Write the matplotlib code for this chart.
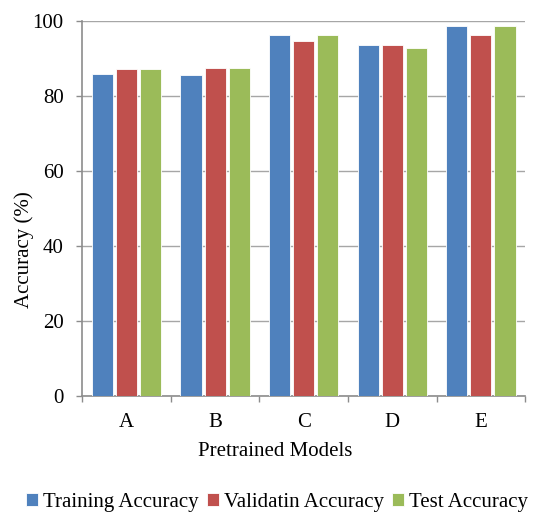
import matplotlib.pyplot as plt
import numpy as np

plt.rcParams['font.family'] = ['Liberation Serif', 'DejaVu Serif']

models = ['A', 'B', 'C', 'D', 'E']
training = [85.9, 85.7, 96.4, 93.7, 98.7]
validation = [87.3, 87.6, 94.8, 93.7, 96.4]
test = [87.2, 87.4, 96.4, 92.9, 98.6]

series = [('Training Accuracy', training, '#4F81BD'),
          ('Validatin Accuracy', validation, '#C0504D'),
          ('Test Accuracy', test, '#9BBB59')]

fig = plt.figure(figsize=(5.38, 5.13), dpi=100)
ax = fig.add_axes([0.153, 0.228, 0.823, 0.731])

x = np.arange(len(models))
step = 0.272
for i, (name, vals, color) in enumerate(series):
    ax.bar(x + (i - 1) * step, vals, width=0.24, color=color,
           edgecolor='white', linewidth=0.6, label=name, zorder=3)

ax.set_xlim(-0.5, len(models) - 0.5)
ax.set_ylim(0, 100)
ax.set_yticks(range(0, 101, 20))
ax.yaxis.grid(True, color='#a6a6a6', linewidth=1.0, zorder=0)

ax.set_xticks(x)
ax.set_xticklabels(models)
ax.set_xticks(np.arange(-0.5, len(models)), minor=True)
ax.tick_params(axis='x', which='major', length=0, pad=12, labelsize=15)
ax.tick_params(axis='x', which='minor', length=4.5, color='#8c8c8c', width=1)
ax.tick_params(axis='y', length=4.5, color='#8c8c8c', width=1, labelsize=15, pad=9)

for s in ['top', 'right']:
    ax.spines[s].set_visible(False)
for s in ['left', 'bottom']:
    ax.spines[s].set_color('#8c8c8c')
    ax.spines[s].set_linewidth(1.2)

ax.set_xlabel('Pretrained Models', fontsize=15, labelpad=2)
ax.xaxis.set_label_coords(0.436, -0.122)
ax.set_ylabel('Accuracy (%)', fontsize=15)
ax.yaxis.set_label_coords(-0.108, 0.39)

ax.legend(loc='center', bbox_to_anchor=(0.44, -0.283), ncol=3,
          frameon=False, fontsize=15, handlelength=0.55, handleheight=0.55,
          handletextpad=0.25, columnspacing=0.4, borderaxespad=0)

plt.savefig('out.png', dpi=100)
